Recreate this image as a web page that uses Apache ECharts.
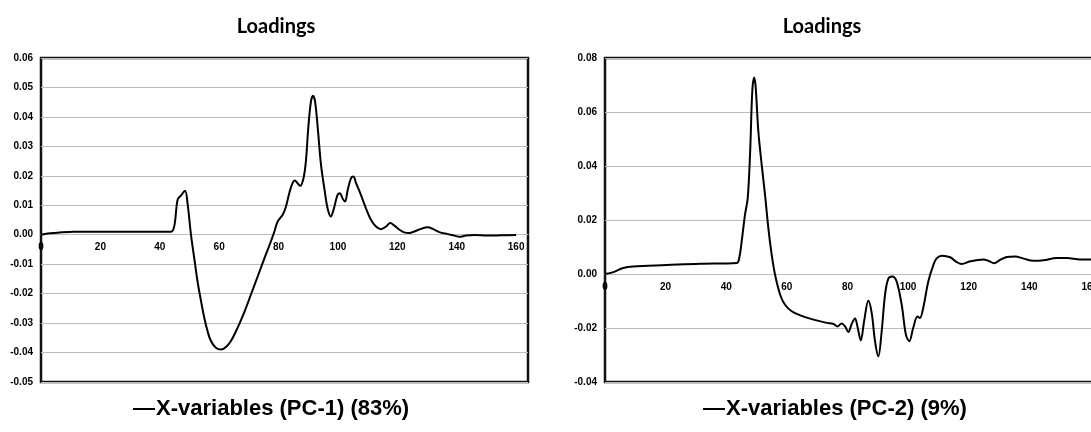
<!DOCTYPE html>
<html>
<head>
<meta charset="utf-8">
<script src="https://cdn.jsdelivr.net/npm/echarts@6/dist/echarts.min.js"></script>
<style>html,body{margin:0;padding:0;background:#fff}#c{width:1091px;height:432px}</style>
</head>
<body>
<div id="c"></div>
<script>
const titles = ['Loadings', 'Loadings'];
const seriesNames = ['X-variables (PC-1) (83%)', 'X-variables (PC-2) (9%)'];

const pc1X = [0, 3, 6.7, 11, 20, 30, 40, 43.8, 44.9, 46, 47.1, 48.5, 49.4, 50.5, 51.6, 52.7, 53.9, 55, 56.1, 57.2, 58.9, 60.6, 62.3, 64, 66.2, 68.5, 70.7, 73, 75.2, 77.4, 78.6, 79.7, 81.4, 82.5, 83.6, 84.7, 85.5, 86.4, 87.3, 88.4, 89.2, 90, 90.9, 91.6, 92.3, 93.2, 94.3, 95.4, 96.5, 97.6, 98.5, 99.9, 100.7, 101.6, 102.4, 103.3, 104.4, 105.2, 106.1, 107.7, 109.4, 111.1, 112.8, 114.5, 116.2, 117.6, 119, 120.7, 122.3, 124, 125.7, 128, 130.2, 131.9, 134.1, 136.9, 139.2, 140.9, 143.1, 145.9, 150.4, 154.9, 160];
const pc1Y = [0, 0.0005, 0.0008, 0.001, 0.001, 0.001, 0.001, 0.001, 0.003, 0.0119, 0.0133, 0.0149, 0.0102, 0, -0.0079, -0.0158, -0.0226, -0.0283, -0.0328, -0.036, -0.0384, -0.039, -0.0381, -0.036, -0.0316, -0.0262, -0.0203, -0.0141, -0.0081, -0.0023, 0.0011, 0.0045, 0.0068, 0.0096, 0.0141, 0.0175, 0.0184, 0.0175, 0.0166, 0.0192, 0.0249, 0.0362, 0.0452, 0.0472, 0.0452, 0.0362, 0.0237, 0.0158, 0.009, 0.0062, 0.0084, 0.0136, 0.0141, 0.0122, 0.0113, 0.0153, 0.0192, 0.0198, 0.0175, 0.0136, 0.009, 0.0051, 0.0028, 0.0019, 0.0028, 0.004, 0.0031, 0.0017, 0.0008, 0.0006, 0.0011, 0.002, 0.0025, 0.002, 0.0009, 0.0002, -0.0003, -0.0007, -0.0003, -0.0001, -0.0003, -0.0002, -0.0001];

const pc2X = [0, 2.75, 6, 9.3, 20.3, 31.4, 43.5, 44.3, 45.1, 46.2, 47.1, 47.9, 48.6, 49.2, 49.7, 50.6, 51.7, 52.8, 53.9, 55, 56.1, 57.8, 59.4, 61.6, 64.4, 68.8, 73.2, 75.4, 76.7, 78.1, 79.2, 80.3, 81.4, 82.5, 83.3, 84.4, 85.5, 86.9, 88, 89.1, 90.2, 91.3, 92.4, 93.5, 94.8, 96.2, 97.9, 99.3, 100.4, 101.7, 103.1, 103.9, 105, 106.7, 108.4, 109.5, 111.2, 113.9, 116.1, 117.7, 120.5, 124.9, 126.5, 128.4, 130.4, 132.6, 135.3, 138.1, 141.4, 144.7, 149.1, 152.4, 156.8, 160.4];
const pc2Y = [0, 0.0007, 0.0022, 0.0028, 0.0033, 0.0038, 0.0041, 0.0059, 0.0121, 0.022, 0.0281, 0.0454, 0.0677, 0.0728, 0.0695, 0.0528, 0.0405, 0.0294, 0.017, 0.0072, -0.0002, -0.0077, -0.0114, -0.0138, -0.0153, -0.0169, -0.0181, -0.0185, -0.0194, -0.0183, -0.0194, -0.0215, -0.0185, -0.0165, -0.0194, -0.0246, -0.0175, -0.0099, -0.0144, -0.0249, -0.0305, -0.0212, -0.0077, -0.0017, -0.0009, -0.0027, -0.0114, -0.0225, -0.0249, -0.02, -0.0157, -0.0163, -0.0126, -0.0027, 0.0035, 0.0059, 0.0068, 0.0062, 0.0044, 0.0037, 0.0047, 0.0054, 0.0049, 0.004, 0.0052, 0.0063, 0.0065, 0.0057, 0.0049, 0.0051, 0.0059, 0.0059, 0.0054, 0.0054];

const xRange = {min: 0, max: 164, interval: 20};
const y1Range = {min: -0.05, max: 0.06, interval: 0.01};
const y2Range = {min: -0.04, max: 0.08, interval: 0.02};

const GRID_H = 324;
const zip = (xs, ys) => xs.map((x, i) => [x, ys[i]]);
const labelFont = {color: '#000', fontWeight: 'bold', fontSize: 10, fontFamily: 'Liberation Sans, Arial, sans-serif'};

// place the x axis on the y = 0 line: shift up from the bottom by the zero's share of the y range
function zeroOffset(r) { return -GRID_H * (0 - r.min) / (r.max - r.min); }

function xAxis(gi, yr) {
  return {
    type: 'value', gridIndex: gi, position: 'bottom', offset: zeroOffset(yr),
    min: xRange.min, max: xRange.max, interval: xRange.interval,
    axisLine: {show: true, onZero: false, lineStyle: {color: '#bbbbbb', width: 1}},
    axisTick: {show: false}, splitLine: {show: false},
    axisLabel: Object.assign({margin: 8, formatter: v => (v % 20 === 0 ? String(v) : '')}, labelFont)
  };
}
function yAxis(gi, r) {
  return {
    type: 'value', gridIndex: gi, position: 'left', min: r.min, max: r.max, interval: r.interval,
    axisLine: {show: false, onZero: false}, axisTick: {show: false},
    splitLine: {show: true, lineStyle: {color: '#bbbbbb', width: 1}},
    axisLabel: Object.assign({margin: 8, formatter: v => v.toFixed(2)}, labelFont)
  };
}

const titleStyle = {fontFamily: 'Lato, sans-serif', fontWeight: 'bold', fontSize: 20, color: '#000'};
const legendText = {fontFamily: 'Liberation Sans, Arial, sans-serif', fontWeight: 'bold', fontSize: 22, color: '#000', padding: [0, 0, 0, -4]};

const chart = echarts.init(document.getElementById('c'), null, {renderer: 'canvas'});
chart.setOption({
  animation: false,
  backgroundColor: '#fff',
  title: [
    {text: titles[0], left: 271, top: 12, textAlign: 'center', textStyle: titleStyle},
    {text: titles[1], left: 817, top: 12, textAlign: 'center', textStyle: titleStyle}
  ],
  grid: [
    {left: 41, top: 58, width: 487, height: GRID_H, outerBoundsMode: 'none', containLabel: false, show: true, borderColor: '#111', borderWidth: 2.5, backgroundColor: 'transparent'},
    {left: 605, top: 58, width: 497, height: GRID_H, outerBoundsMode: 'none', containLabel: false, show: true, borderColor: '#111', borderWidth: 2.5, backgroundColor: 'transparent'}
  ],
  xAxis: [xAxis(0, y1Range), xAxis(1, y2Range)],
  yAxis: [yAxis(0, y1Range), yAxis(1, y2Range)],
  legend: [
    {data: [seriesNames[0]], left: 128, top: 393, icon: 'rect', itemWidth: 22, itemHeight: 2, itemGap: 0, textStyle: legendText},
    {data: [seriesNames[1]], left: 698, top: 393, icon: 'rect', itemWidth: 22, itemHeight: 2, itemGap: 0, textStyle: legendText}
  ],
  series: [
    {name: seriesNames[0], type: 'line', xAxisIndex: 0, yAxisIndex: 0, data: zip(pc1X, pc1Y), smooth: 0.35, showSymbol: false,
     lineStyle: {color: '#000', width: 2}, itemStyle: {color: '#000'}},
    {name: seriesNames[1], type: 'line', xAxisIndex: 1, yAxisIndex: 1, data: zip(pc2X, pc2Y), smooth: 0.35, showSymbol: false,
     lineStyle: {color: '#000', width: 2}, itemStyle: {color: '#000'}}
  ]
});
</script>
</body>
</html>
